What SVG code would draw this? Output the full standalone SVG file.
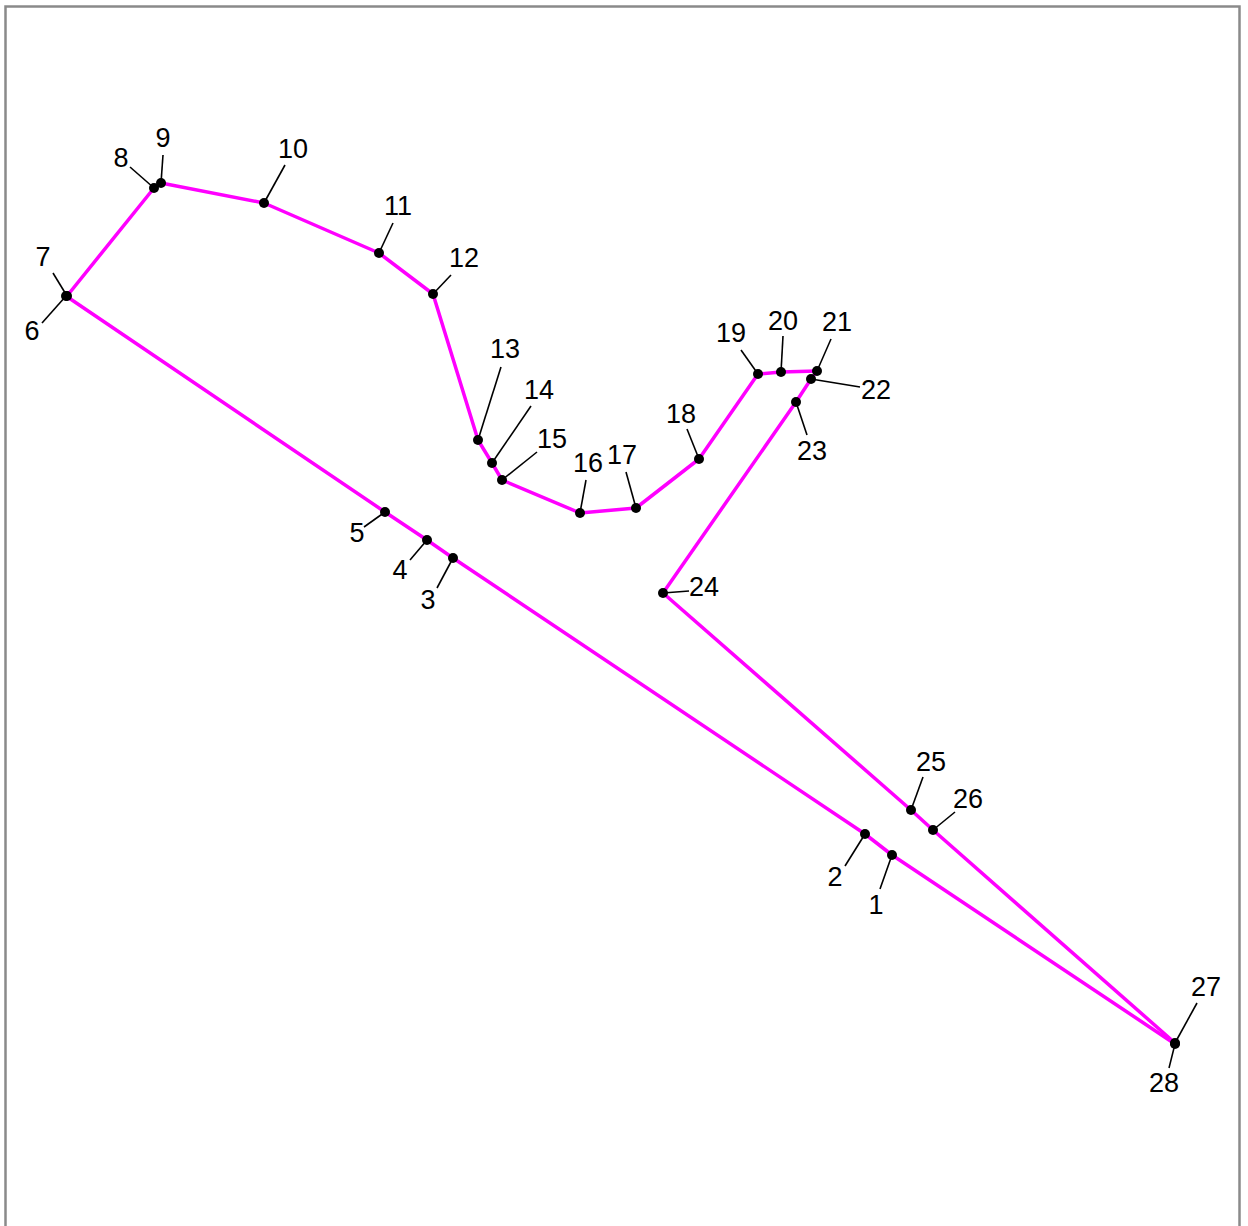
<svg xmlns="http://www.w3.org/2000/svg" width="1248" height="1226" viewBox="0 0 1248 1226">
<style>
.frame{fill:none;stroke:#8a8a8a;stroke-width:2.5}
.edge{stroke:#ff00ff;stroke-width:3.5;stroke-linecap:round;fill:none}
.dot{fill:#000}
.lead{stroke:#000;stroke-width:1.6}
.lbl{font-family:"Liberation Sans",Arial,sans-serif;font-size:27px;fill:#000;text-anchor:middle}
</style>
<rect class="frame" x="5.5" y="6.5" width="1234" height="1240"/>
<g id="connectors">
<line class="edge" x1="892" y1="855" x2="865" y2="834"/>
<line class="edge" x1="865" y1="834" x2="453" y2="558"/>
<line class="edge" x1="453" y1="558" x2="427" y2="540"/>
<line class="edge" x1="427" y1="540" x2="385" y2="512"/>
<line class="edge" x1="385" y1="512" x2="66" y2="296"/>
<line class="edge" x1="66" y1="296" x2="67" y2="296"/>
<line class="edge" x1="67" y1="296" x2="154" y2="188"/>
<line class="edge" x1="154" y1="188" x2="161" y2="183"/>
<line class="edge" x1="161" y1="183" x2="264" y2="203"/>
<line class="edge" x1="264" y1="203" x2="379" y2="253"/>
<line class="edge" x1="379" y1="253" x2="433" y2="294"/>
<line class="edge" x1="433" y1="294" x2="478" y2="440"/>
<line class="edge" x1="478" y1="440" x2="492" y2="463"/>
<line class="edge" x1="492" y1="463" x2="502" y2="480"/>
<line class="edge" x1="502" y1="480" x2="580" y2="513"/>
<line class="edge" x1="580" y1="513" x2="636" y2="508"/>
<line class="edge" x1="636" y1="508" x2="699" y2="459"/>
<line class="edge" x1="699" y1="459" x2="758" y2="374"/>
<line class="edge" x1="758" y1="374" x2="781" y2="372"/>
<line class="edge" x1="781" y1="372" x2="817" y2="371"/>
<line class="edge" x1="817" y1="371" x2="811" y2="379"/>
<line class="edge" x1="811" y1="379" x2="796" y2="402"/>
<line class="edge" x1="796" y1="402" x2="663" y2="593"/>
<line class="edge" x1="663" y1="593" x2="911" y2="810"/>
<line class="edge" x1="911" y1="810" x2="933" y2="830"/>
<line class="edge" x1="933" y1="830" x2="1175" y2="1043"/>
<line class="edge" x1="1175" y1="1043" x2="1175" y2="1044"/>
<line class="edge" x1="1175" y1="1044" x2="892" y2="855"/>
</g>
<g id="n1"><line class="lead" x1="892" y1="855" x2="880" y2="889"/><circle class="dot" cx="892" cy="855" r="5"/><text class="lbl" x="876" y="914">1</text></g>
<g id="n2"><line class="lead" x1="865" y1="834" x2="845" y2="866"/><circle class="dot" cx="865" cy="834" r="5"/><text class="lbl" x="835" y="886">2</text></g>
<g id="n3"><line class="lead" x1="453" y1="558" x2="437" y2="588"/><circle class="dot" cx="453" cy="558" r="5"/><text class="lbl" x="428" y="609">3</text></g>
<g id="n4"><line class="lead" x1="427" y1="540" x2="410" y2="560"/><circle class="dot" cx="427" cy="540" r="5"/><text class="lbl" x="400" y="579">4</text></g>
<g id="n5"><line class="lead" x1="385" y1="512" x2="364" y2="527"/><circle class="dot" cx="385" cy="512" r="5"/><text class="lbl" x="357" y="542">5</text></g>
<g id="n6"><line class="lead" x1="66" y1="296" x2="42" y2="323"/><circle class="dot" cx="66" cy="296" r="5"/><text class="lbl" x="32" y="340">6</text></g>
<g id="n7"><line class="lead" x1="67" y1="296" x2="53" y2="273"/><circle class="dot" cx="67" cy="296" r="5"/><text class="lbl" x="43" y="266">7</text></g>
<g id="n8"><line class="lead" x1="154" y1="188" x2="130" y2="167"/><circle class="dot" cx="154" cy="188" r="5"/><text class="lbl" x="121" y="167">8</text></g>
<g id="n9"><line class="lead" x1="161" y1="183" x2="163" y2="155"/><circle class="dot" cx="161" cy="183" r="5"/><text class="lbl" x="163" y="147">9</text></g>
<g id="n10"><line class="lead" x1="264" y1="203" x2="285" y2="165"/><circle class="dot" cx="264" cy="203" r="5"/><text class="lbl" x="293" y="158">10</text></g>
<g id="n11"><line class="lead" x1="379" y1="253" x2="393" y2="223"/><circle class="dot" cx="379" cy="253" r="5"/><text class="lbl" x="398" y="215">11</text></g>
<g id="n12"><line class="lead" x1="433" y1="294" x2="451" y2="275"/><circle class="dot" cx="433" cy="294" r="5"/><text class="lbl" x="464" y="267">12</text></g>
<g id="n13"><line class="lead" x1="478" y1="440" x2="501" y2="367"/><circle class="dot" cx="478" cy="440" r="5"/><text class="lbl" x="505" y="358">13</text></g>
<g id="n14"><line class="lead" x1="492" y1="463" x2="531" y2="406"/><circle class="dot" cx="492" cy="463" r="5"/><text class="lbl" x="539" y="399">14</text></g>
<g id="n15"><line class="lead" x1="502" y1="480" x2="537" y2="452"/><circle class="dot" cx="502" cy="480" r="5"/><text class="lbl" x="552" y="448">15</text></g>
<g id="n16"><line class="lead" x1="580" y1="513" x2="586" y2="480"/><circle class="dot" cx="580" cy="513" r="5"/><text class="lbl" x="588" y="472">16</text></g>
<g id="n17"><line class="lead" x1="636" y1="508" x2="626" y2="472"/><circle class="dot" cx="636" cy="508" r="5"/><text class="lbl" x="622" y="464">17</text></g>
<g id="n18"><line class="lead" x1="699" y1="459" x2="687" y2="429"/><circle class="dot" cx="699" cy="459" r="5"/><text class="lbl" x="681" y="423">18</text></g>
<g id="n19"><line class="lead" x1="758" y1="374" x2="741" y2="350"/><circle class="dot" cx="758" cy="374" r="5"/><text class="lbl" x="731" y="342">19</text></g>
<g id="n20"><line class="lead" x1="781" y1="372" x2="783" y2="336"/><circle class="dot" cx="781" cy="372" r="5"/><text class="lbl" x="783" y="330">20</text></g>
<g id="n21"><line class="lead" x1="817" y1="371" x2="831" y2="339"/><circle class="dot" cx="817" cy="371" r="5"/><text class="lbl" x="837" y="331">21</text></g>
<g id="n22"><line class="lead" x1="811" y1="379" x2="860" y2="387"/><circle class="dot" cx="811" cy="379" r="5"/><text class="lbl" x="876" y="399">22</text></g>
<g id="n23"><line class="lead" x1="796" y1="402" x2="807" y2="435"/><circle class="dot" cx="796" cy="402" r="5"/><text class="lbl" x="812" y="460">23</text></g>
<g id="n24"><line class="lead" x1="663" y1="593" x2="689" y2="591"/><circle class="dot" cx="663" cy="593" r="5"/><text class="lbl" x="704" y="596">24</text></g>
<g id="n25"><line class="lead" x1="911" y1="810" x2="923" y2="777"/><circle class="dot" cx="911" cy="810" r="5"/><text class="lbl" x="931" y="771">25</text></g>
<g id="n26"><line class="lead" x1="933" y1="830" x2="955" y2="812"/><circle class="dot" cx="933" cy="830" r="5"/><text class="lbl" x="968" y="808">26</text></g>
<g id="n27"><line class="lead" x1="1175" y1="1043" x2="1197" y2="1003"/><circle class="dot" cx="1175" cy="1043" r="5"/><text class="lbl" x="1206" y="996">27</text></g>
<g id="n28"><line class="lead" x1="1175" y1="1044" x2="1169" y2="1068"/><circle class="dot" cx="1175" cy="1044" r="5"/><text class="lbl" x="1164" y="1092">28</text></g>
</svg>
